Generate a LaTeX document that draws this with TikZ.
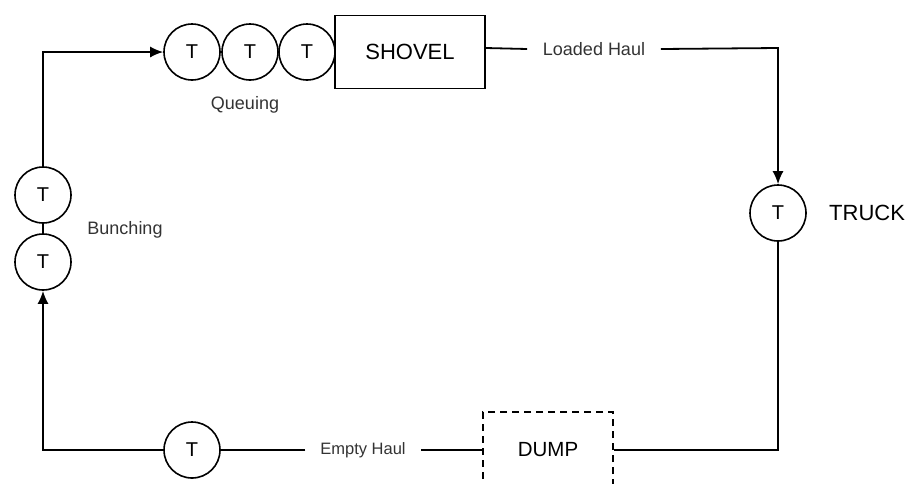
\documentclass[tikz,border=0pt]{standalone}
\usepackage{fontspec}
\setmainfont{Liberation Sans}
\usetikzlibrary{arrows.meta}
\begin{document}
\begin{tikzpicture}[x=1pt,y=-1pt,
  line width=1.8pt,
  truckc/.style={circle,draw,line width=1.6pt,minimum size=56pt,inner sep=0pt,font=\fontsize{20}{20}\selectfont},
  lbl/.style={font=\fontsize{18}{18}\selectfont,text=black!80},
  bigl/.style={font=\fontsize{22}{22}\selectfont},
  arr/.style={-{Latex[length=13pt,width=11pt]}}]
\useasboundingbox (0,0) rectangle (909,483);
\clip (0,0) rectangle (909,483);
% queue
\node[truckc] (q1) at (192,52) {T};
\node[truckc] (q2) at (250,52) {T};
\node[truckc] (q3) at (307,52) {T};
\node[draw,line width=1.8pt,minimum width=150pt,minimum height=73pt,inner sep=0pt,bigl] (shovel) at (410,52) {SHOVEL};
\node[lbl] (queuing) at (245,105) {Queuing};
% loaded haul
\node[lbl,inner xsep=15pt] (loaded) at (594,49) {Loaded Haul};
\node[truckc] (truck) at (778,213) {T};
\node[bigl,anchor=west] (trucklbl) at (825,213) {TRUCK};
\coordinate (tr) at (778,48);
\draw (shovel.east |- 0,48) -- (loaded.west);
\draw[arr] (loaded.east) -- (tr) -- (truck.north);
% dump
\node[draw,dashed,dash pattern=on 7pt off 5pt,line width=1.8pt,minimum width=130pt,minimum height=76pt,inner sep=0pt,font=\fontsize{20.5}{21}\selectfont] (dump) at (548,450) {DUMP};
\coordinate (br) at (778,450);
\draw (truck.south) -- (br) -- (dump.east);
% empty haul
\node[lbl,font=\fontsize{16.5}{17}\selectfont,inner xsep=14pt] (empty) at (363,450) {Empty Haul};
\node[truckc] (bt) at (192,450) {T};
\draw (dump.west) -- (empty.east);
\draw (empty.west) -- (bt.east);
% bunching
\node[truckc] (b1) at (43,195) {T};
\node[truckc] (b2) at (43,262) {T};
\node[lbl] (bunching) at (125,230) {Bunching};
\coordinate (bl) at (43,450);
\draw[arr] (bt.west) -- (bl) -- (b2.south);
\draw (b2.north) -- (b1.south);
\coordinate (tl) at (43,52);
\draw[arr] (b1.north) -- (tl) -- (q1.west);
\end{tikzpicture}
\end{document}
